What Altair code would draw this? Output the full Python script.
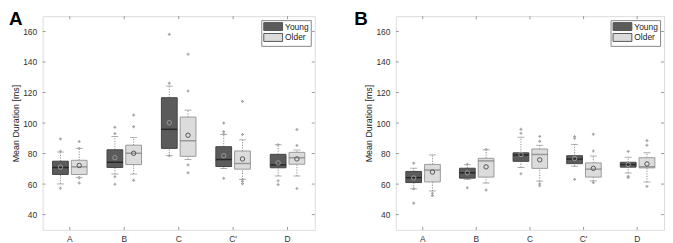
import altair as alt
import pandas as pd

cats = ["A", "B", "C", "C'", "D"]
groups = ["Young", "Older"]
y_ticks = [40, 60, 80, 100, 120, 140, 160]
y_domain = [30, 170]

# ---- Panel A ----
a_young_lo   = [60.1, 66.6, 78.6, 70.2, 65.3]
a_young_q1   = [66.3, 70.9, 83.4, 71.5, 70.7]
a_young_med  = [70.9, 74.3, 95.9, 76.1, 72.6]
a_young_q3   = [75.0, 82.5, 116.6, 84.5, 79.5]
a_young_hi   = [81.0, 91.2, 124.2, 92.5, 85.8]
a_young_mean = [71.1, 77.3, 100.2, 78.6, 73.9]
a_young_pts  = [[89.6, 81.5, 57.3], [97.2, 93.1, 64.8, 59.9], [158.1, 126.1, 78.6],
                [100.0, 94.4, 92.8, 63.8], [85.8, 62.2, 59.7]]

a_older_lo   = [64.4, 66.6, 76.1, 63.1, 65.3]
a_older_q1   = [66.3, 72.8, 78.2, 69.8, 73.0]
a_older_med  = [71.3, 80.2, 88.4, 73.5, 77.3]
a_older_q3   = [75.6, 85.5, 103.9, 81.7, 80.8]
a_older_hi   = [83.4, 90.5, 108.4, 89.0, 82.3]
a_older_mean = [72.2, 80.2, 92.0, 76.5, 76.5]
a_older_pts  = [[87.9, 83.4, 64.0, 60.7], [105.2, 97.6, 62.5], [145.1, 121.0, 72.6, 67.4],
                [114.2, 92.5, 63.1, 61.8, 60.3], [95.7, 85.3, 57.1]]

# ---- Panel B ----
b_young_lo   = [56.9, 63.1, 70.9, 71.7, 67.3]
b_young_q1   = [61.0, 63.9, 74.9, 73.4, 71.1]
b_young_med  = [64.2, 67.4, 79.0, 76.4, 72.8]
b_young_q3   = [68.3, 70.4, 80.5, 78.6, 74.3]
b_young_hi   = [70.4, 72.7, 90.7, 86.0, 77.6]
b_young_mean = [64.0, 67.4, 79.4, 76.8, 72.8]
b_young_pts  = [[73.7, 56.9, 47.5], [73.0, 57.6], [95.9, 93.3, 66.8],
                [91.2, 90.1, 63.1], [81.4, 65.1, 64.3]]

b_older_lo   = [55.5, 60.7, 61.9, 62.1, 61.3]
b_older_q1   = [61.4, 64.6, 70.3, 64.6, 70.6]
b_older_med  = [69.2, 75.2, 79.4, 69.8, 71.3]
b_older_q3   = [72.9, 76.9, 83.0, 73.9, 77.3]
b_older_hi   = [79.1, 82.5, 85.4, 78.4, 80.5]
b_older_mean = [67.9, 71.3, 75.9, 70.3, 73.2]
b_older_pts  = [[54.0, 52.5], [82.7, 56.1], [91.2, 88.0, 60.2, 58.9],
                [92.7, 81.7, 61.0], [88.5, 85.4, 58.5]]

FONT = "Liberation Sans"
FRAME = "#9a9a9a"


def panel(letter, young, older, width, height, letter_dx):
    box_rows, pt_rows = [], []
    for g, d in (("Young", young), ("Older", older)):
        lo, q1, med, q3, hi, mean, pts = d
        for i, c in enumerate(cats):
            box_rows.append(dict(cat=c, group=g, lo=lo[i], q1=q1[i], med=med[i],
                                 q3=q3[i], hi=hi[i], mean=mean[i]))
            for v in pts[i]:
                pt_rows.append(dict(cat=c, group=g, v=v))
    box = pd.DataFrame(box_rows)
    pts = pd.DataFrame(pt_rows)
    yt = pd.DataFrame({"v": y_ticks})
    ct = pd.DataFrame({"cat": cats})
    lt = pd.DataFrame({"t": [letter]})

    xaxis = alt.Axis(title=None, labelAngle=0, domain=False, ticks=False, labelPadding=5,
                     labelFontSize=8.5, labelColor="#333", labelFont=FONT, grid=False)
    xscale = alt.Scale(domain=cats, paddingInner=0, paddingOuter=0)

    def X():
        return alt.X("cat:N", sort=cats, scale=xscale, axis=xaxis)

    def XO():
        return alt.XOffset("group:N", sort=groups,
                           scale=alt.Scale(domain=groups, paddingInner=0.16, paddingOuter=0.53))

    yaxis = alt.Axis(title="Mean Duration [ms]", values=y_ticks, domain=False, ticks=False,
                     grid=False, labelPadding=6, titlePadding=2, labelFontSize=8.5,
                     labelColor="#333", labelFont=FONT, titleFont=FONT, titleFontSize=9,
                     titleFontWeight="normal", titleColor="#222")
    yscale = alt.Scale(domain=y_domain, nice=False, zero=False)

    def Y(f):
        return alt.Y(f, scale=yscale, axis=yaxis)

    young_cond = alt.datum.group == "Young"

    wlo = alt.Chart(box).mark_rule(color="#8e8e8e", strokeDash=[1.2, 1.4], strokeWidth=1).encode(
        x=X(), xOffset=XO(), y=Y("lo:Q"), y2="q1:Q")
    whi = alt.Chart(box).mark_rule(color="#8e8e8e", strokeDash=[1.2, 1.4], strokeWidth=1).encode(
        x=X(), xOffset=XO(), y=Y("q3:Q"), y2="hi:Q")
    clo = alt.Chart(box).mark_tick(color="#8a8a8a", size=7, thickness=1).encode(
        x=X(), xOffset=XO(), y=Y("lo:Q"))
    chi = alt.Chart(box).mark_tick(color="#8a8a8a", size=7, thickness=1).encode(
        x=X(), xOffset=XO(), y=Y("hi:Q"))
    dots = alt.Chart(pts).mark_point(shape="cross", filled=True, size=9, color="#a5a5a5",
                                     opacity=1, strokeWidth=0).encode(
        x=X(), xOffset=XO(), y=Y("v:Q"))
    bars = alt.Chart(box).mark_bar(strokeWidth=1).encode(
        x=X(), xOffset=XO(), y=Y("q1:Q"), y2="q3:Q",
        fill=alt.Fill("group:N", sort=groups,
                      scale=alt.Scale(domain=groups, range=["#5b5b5b", "#dcdcdc"]),
                      legend=alt.Legend(title=None, orient="top-right", offset=4,
                                        fillColor="white", strokeColor="#888", padding=2,
                                        symbolType="M-1,-1H3.75V1H-1Z", symbolSize=64,
                                        symbolStrokeColor="#555", symbolStrokeWidth=1,
                                        symbolOpacity=1, labelFontSize=8.5, labelFont=FONT,
                                        labelColor="#222", labelOffset=13, rowPadding=-3,
                                        labelLimit=60)),
        stroke=alt.condition(young_cond, alt.value("#454545"), alt.value("#9a9a9a")))
    meds = alt.Chart(box).mark_tick(size=16, thickness=1.5).encode(
        x=X(), xOffset=XO(), y=Y("med:Q"),
        color=alt.condition(young_cond, alt.value("#111111"), alt.value("#7a7a7a")))
    means = alt.Chart(box).mark_point(shape="circle", filled=False, size=20, strokeWidth=1,
                                      opacity=1).encode(
        x=X(), xOffset=XO(), y=Y("mean:Q"),
        stroke=alt.condition(young_cond, alt.value("#9a9a9a"), alt.value("#555555")))

    tl = alt.Chart(yt).mark_rule(color=FRAME).encode(
        y=Y("v:Q"), x=alt.value(0), x2=alt.value(3))
    tr = alt.Chart(yt).mark_rule(color=FRAME).encode(
        y=Y("v:Q"), x=alt.value(width - 3), x2=alt.value(width))
    ttop = alt.Chart(ct).mark_rule(color=FRAME).encode(
        x=X(), y=alt.value(0), y2=alt.value(3))
    tbot = alt.Chart(ct).mark_rule(color=FRAME).encode(
        x=X(), y=alt.value(height - 3), y2=alt.value(height))
    let = alt.Chart(lt).mark_text(fontSize=19, fontWeight="bold", align="left", baseline="top",
                                  font=FONT, color="#000").encode(
        text="t:N", x=alt.value(letter_dx), y=alt.value(-6))

    return alt.layer(wlo, whi, clo, chi, dots, bars, meds, means, tl, tr, ttop, tbot, let
                     ).properties(width=width, height=height)


pA = panel("A",
           (a_young_lo, a_young_q1, a_young_med, a_young_q3, a_young_hi, a_young_mean, a_young_pts),
           (a_older_lo, a_older_q1, a_older_med, a_older_q3, a_older_hi, a_older_mean, a_older_pts),
           275, 216, -34)
pB = panel("B",
           (b_young_lo, b_young_q1, b_young_med, b_young_q3, b_young_hi, b_young_mean, b_young_pts),
           (b_older_lo, b_older_q1, b_older_med, b_older_q3, b_older_hi, b_older_mean, b_older_pts),
           271, 216, -42)

chart = alt.hconcat(pA, pB, spacing=38).resolve_scale(fill="independent").properties(
    padding={"left": 0, "top": 0, "right": 0, "bottom": 0}
).configure_view(stroke=FRAME, strokeWidth=1).configure(background="white")

chart.save("out.html", embed_options={"renderer": "svg", "actions": False})
